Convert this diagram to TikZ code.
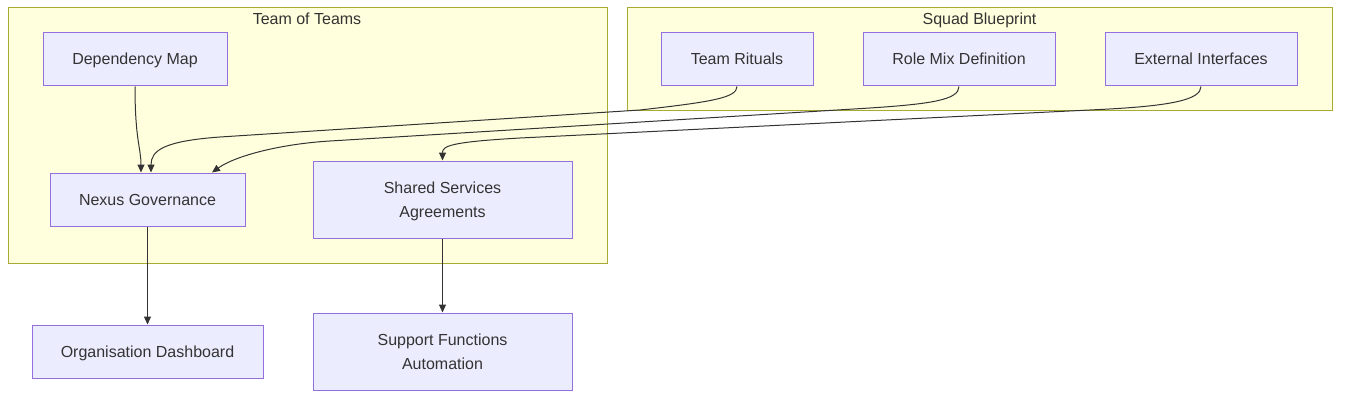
\documentclass[tikz,border=0pt]{standalone}
\usepackage{fontspec}
\setmainfont{Liberation Sans}
\usepackage{tikz}
\usetikzlibrary{positioning,calc,arrows.meta}
\definecolor{ClusterFill}{HTML}{FFFFDE}
\definecolor{ClusterEdge}{HTML}{AAAA33}
\definecolor{BoxFill}{HTML}{ECECFF}
\definecolor{BoxEdge}{HTML}{9370DB}
\definecolor{InkDark}{HTML}{333333}

\tikzset{
  clusterbox/.style={draw=ClusterEdge, fill=ClusterFill, line width=1pt},
  clustertitle/.style={text=InkDark, font=\fontsize{16}{19}\selectfont, inner sep=0pt,
    text height=14pt, text depth=3pt},
  procbox/.style={draw=BoxEdge, fill=BoxFill, line width=1pt, text=InkDark,
    font=\fontsize{16}{24}\selectfont, align=center, inner sep=0pt,
    text height=14pt, text depth=3pt},
  twoline/.style={text height=38pt},
  flowarrow/.style={draw=InkDark, line width=1pt, -{Triangle[length=8pt,width=7pt]}}
}

\begin{document}
\begin{tikzpicture}[x=1pt, y=-1pt]
    \useasboundingbox (0,0) rectangle (1348,401);
    % clusters
    \draw[clusterbox] (8,8) rectangle (607,263);
    \node[clustertitle] (teamsTitle) at (307,19) {Team of Teams};
    \draw[clusterbox] (627,8) rectangle (1332,111);
    \node[clustertitle] (squadTitle) at (979.5,19) {Squad Blueprint};

    % process boxes
    \node[procbox, minimum width=184pt, minimum height=53pt] (depMap) at (135,59.5) {Dependency Map};
    \node[procbox, minimum width=152pt, minimum height=53pt] (rituals) at (737,59.5) {Team Rituals};
    \node[procbox, minimum width=192pt, minimum height=53pt] (roleMix) at (959,59.5) {Role Mix Definition};
    \node[procbox, minimum width=192pt, minimum height=53pt] (extIf) at (1201,59.5) {External Interfaces};
    \node[procbox, minimum width=195pt, minimum height=53pt] (nexus) at (147.5,199.5) {Nexus Governance};
    \node[procbox, twoline, minimum width=259pt, minimum height=77pt] (shared) at (442.5,199.5) {Shared Services\\Agreements};
    \node[procbox, minimum width=231pt, minimum height=53pt] (orgDash) at (147.5,351.5) {Organisation Dashboard};
    \node[procbox, twoline, minimum width=259pt, minimum height=77pt] (support) at (442.5,351.5) {Support Functions\\Automation};

    % connectors
    \draw[flowarrow] (depMap.south) .. controls (135,140) and (141,148) .. ([xshift=-6.5pt]nexus.north);
    \draw[flowarrow] (rituals.south) .. controls (737,98) and (710,102) .. (640,110)
      -- (220,137) .. controls (165,141) and (151,150) .. ([xshift=3.5pt]nexus.north);
    \draw[flowarrow] (roleMix.south) .. controls (959,100) and (930,104) .. (870,108)
      -- (330,141) .. controls (280,144) and (235,156) .. ([xshift=64.5pt]nexus.north);
    \draw[flowarrow] (extIf.south) .. controls (1201,100) and (1170,106) .. (1100,109.5)
      -- (520,138) .. controls (450,142) and (442.5,146) .. (shared.north);
    \draw[flowarrow] (nexus.south) -- (orgDash.north);
    \draw[flowarrow] (shared.south) -- (support.north);
  \end{tikzpicture}
\end{document}
